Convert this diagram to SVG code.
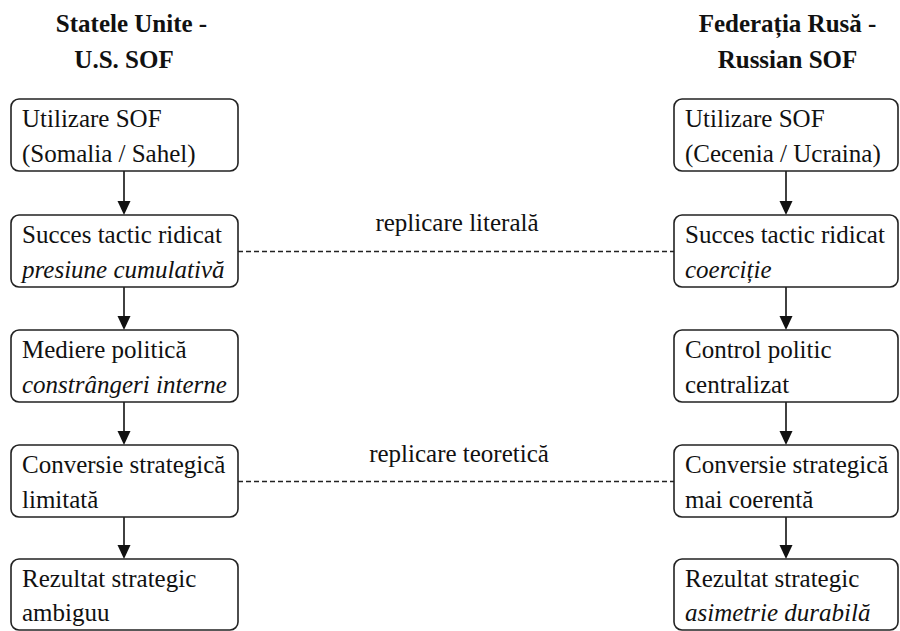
<svg xmlns="http://www.w3.org/2000/svg" width="900" height="631" viewBox="0 0 900 631">
<style>
text{font-family:'Liberation Serif','DejaVu Serif',serif;font-size:25px;fill:#111}
.t{font-weight:bold;text-anchor:middle}
.i{font-style:italic}
.box{fill:#fff;stroke:#222;stroke-width:1.6}
.ar{stroke:#111;stroke-width:1.6;fill:none}
.ah{fill:#111}
.dash{stroke:#222;stroke-width:1.4;stroke-dasharray:5 3;fill:none}
</style>
<rect width="900" height="631" fill="#fff"/>
<g id="title-us"><text class="t" x="131.5" y="32">Statele Unite -</text><text class="t" x="124" y="68">U.S. SOF</text></g>
<g id="title-ru"><text class="t" x="787.5" y="32">Federația Rusă -</text><text class="t" x="787.5" y="68">Russian SOF</text></g>
<g id="connectors">
<line class="ar" x1="124" y1="171" x2="124" y2="203"/><polygon class="ah" points="117.5,201 130.5,201 124,215"/>
<line class="ar" x1="124" y1="287" x2="124" y2="318"/><polygon class="ah" points="117.5,316 130.5,316 124,330"/>
<line class="ar" x1="124" y1="402" x2="124" y2="433"/><polygon class="ah" points="117.5,431 130.5,431 124,445"/>
<line class="ar" x1="124" y1="517" x2="124" y2="547"/><polygon class="ah" points="117.5,545 130.5,545 124,559"/>
<line class="ar" x1="786" y1="171" x2="786" y2="203"/><polygon class="ah" points="779.5,201 792.5,201 786,215"/>
<line class="ar" x1="786" y1="287" x2="786" y2="318"/><polygon class="ah" points="779.5,316 792.5,316 786,330"/>
<line class="ar" x1="786" y1="402" x2="786" y2="433"/><polygon class="ah" points="779.5,431 792.5,431 786,445"/>
<line class="ar" x1="786" y1="517" x2="786" y2="547"/><polygon class="ah" points="779.5,545 792.5,545 786,559"/>
<line class="dash" x1="238" y1="251.5" x2="674" y2="251.5"/>
<line class="dash" x1="238" y1="481.5" x2="674" y2="481.5"/>
<text x="457" y="231" text-anchor="middle">replicare literală</text>
<text x="459" y="461.5" text-anchor="middle">replicare teoretică</text>
</g>
<g id="us1"><rect class="box" x="11" y="99" width="227" height="72" rx="8"/><text x="22" y="127">Utilizare SOF</text><text x="22" y="161.5">(Somalia / Sahel)</text></g>
<g id="us2"><rect class="box" x="11" y="215" width="227" height="72" rx="8"/><text x="22" y="243">Succes tactic ridicat</text><text class="i" x="22" y="277.5">presiune cumulativă</text></g>
<g id="us3"><rect class="box" x="11" y="330" width="227" height="72" rx="8"/><text x="22" y="358">Mediere politică</text><text class="i" x="22" y="392.5">constrângeri interne</text></g>
<g id="us4"><rect class="box" x="11" y="445" width="227" height="72" rx="8"/><text x="22" y="473">Conversie strategică</text><text x="22" y="507.5">limitată</text></g>
<g id="us5"><rect class="box" x="11" y="559" width="227" height="71" rx="8"/><text x="22" y="587">Rezultat strategic</text><text x="22" y="621">ambiguu</text></g>
<g id="ru1"><rect class="box" x="674" y="99" width="224" height="72" rx="8"/><text x="685" y="127">Utilizare SOF</text><text x="685" y="161.5">(Cecenia / Ucraina)</text></g>
<g id="ru2"><rect class="box" x="674" y="215" width="224" height="72" rx="8"/><text x="685" y="243">Succes tactic ridicat</text><text class="i" x="685" y="277.5">coerciție</text></g>
<g id="ru3"><rect class="box" x="674" y="330" width="224" height="72" rx="8"/><text x="685" y="358">Control politic</text><text x="685" y="392.5">centralizat</text></g>
<g id="ru4"><rect class="box" x="674" y="445" width="224" height="72" rx="8"/><text x="685" y="473">Conversie strategică</text><text x="685" y="507.5">mai coerentă</text></g>
<g id="ru5"><rect class="box" x="674" y="559" width="224" height="71" rx="8"/><text x="685" y="587">Rezultat strategic</text><text class="i" x="685" y="621">asimetrie durabilă</text></g>
</svg>
